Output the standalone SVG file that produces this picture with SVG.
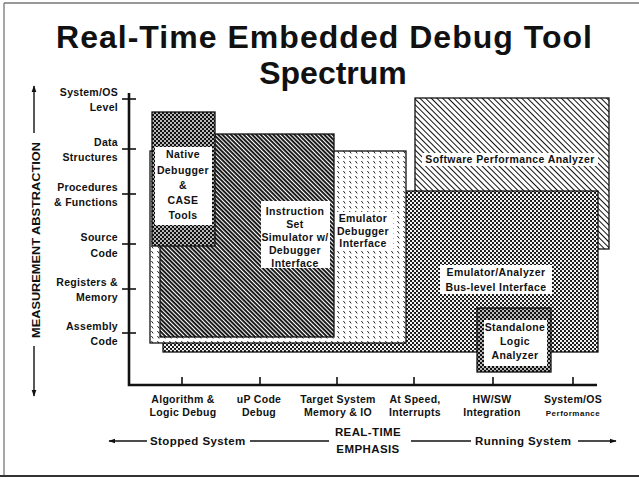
<svg xmlns="http://www.w3.org/2000/svg" width="639" height="479" viewBox="0 0 639 479">
  <style>
    .t { font-family: "Liberation Sans", Arial, sans-serif; font-weight: bold; fill: #111; }
    .lbl { font-size: 10.5px; letter-spacing: 0.4px; text-anchor: middle; }
    .ylbl { font-size: 10.5px; letter-spacing: 0.3px; text-anchor: end; }
    .xlbl { font-size: 10.5px; letter-spacing: 0.3px; text-anchor: middle; }
    .emph { font-size: 11.5px; letter-spacing: 0.4px; }
    .title { font-size: 32px; text-anchor: middle; }
    .box { stroke: #111; stroke-width: 1.3; }
    .axis { stroke: #111; stroke-width: 2.6; fill: none; }
    .tick { stroke: #111; stroke-width: 1.6; }
    .wire { stroke: #111; stroke-width: 1.4; fill: none; }
    .pad { fill: #fff; }
  </style>
  <defs>
    <!-- dark dotted fill -->
    <pattern id="pDots" width="4" height="4" patternUnits="userSpaceOnUse">
      <rect width="4" height="4" fill="#111"/>
      <circle cx="1" cy="1" r="0.95" fill="#fff"/>
      <circle cx="3" cy="3" r="0.95" fill="#fff"/>
    </pattern>
    <!-- checkered fill -->
    <pattern id="pCheck" width="4" height="4" patternUnits="userSpaceOnUse">
      <rect width="4" height="4" fill="#111"/>
      <circle cx="1" cy="1" r="1.15" fill="#fff"/>
      <circle cx="3" cy="3" r="1.15" fill="#fff"/>
    </pattern>
    <!-- dense diagonal hatch -->
    <pattern id="pDense" width="3" height="3" patternUnits="userSpaceOnUse" patternTransform="rotate(45)">
      <rect width="3" height="3" fill="#fff"/>
      <rect width="3" height="1.9" fill="#111"/>
    </pattern>
    <!-- light diagonal hatch -->
    <pattern id="pLight" width="4" height="4" patternUnits="userSpaceOnUse" patternTransform="rotate(45)">
      <rect width="4" height="4" fill="#fff"/>
      <rect width="4" height="1" fill="#111"/>
    </pattern>
    <!-- short dash fill -->
    <pattern id="pDash" width="6" height="5" patternUnits="userSpaceOnUse">
      <rect width="6" height="5" fill="#fff"/>
      <line x1="1.4" y1="1" x2="3.2" y2="3.5" stroke="#111" stroke-width="0.9"/>
    </pattern>
    <marker id="arr" viewBox="0 0 10 10" refX="9" refY="5" markerWidth="7" markerHeight="7" orient="auto-start-reverse" markerUnits="userSpaceOnUse">
      <path d="M0,1.5 L10,5 L0,8.5 z" fill="#111"/>
    </marker>
  </defs>

  <!-- page frame -->
  <g id="frame">
    <line x1="4" y1="3" x2="4" y2="476" stroke="#888" stroke-width="1.5"/>
    <line x1="4" y1="3" x2="639" y2="3" stroke="#777" stroke-width="1.5"/>
    <line x1="0" y1="476" x2="639" y2="476" stroke="#333" stroke-width="2"/>
  </g>

  <!-- title -->
  <g id="title" class="t">
    <text class="title t" x="324" y="48" textLength="536" lengthAdjust="spacing">Real-Time Embedded Debug Tool</text>
    <text class="title t" x="333" y="84">Spectrum</text>
  </g>

  <!-- tool regions, back to front -->
  <g id="spa">
    <rect class="box" x="415" y="98" width="194" height="151" fill="url(#pLight)"/>
    <rect class="pad" x="422" y="153" width="176" height="13"/>
    <text class="t lbl" x="510" y="163">Software Performance Analyzer</text>
  </g>

  <g id="emulator-analyzer">
    <rect class="box" x="163" y="191" width="435" height="161" fill="url(#pCheck)"/>
    <rect class="pad" x="440" y="265" width="112" height="29"/>
    <text class="t lbl" x="496" y="276">Emulator/Analyzer</text>
    <text class="t lbl" x="496" y="291">Bus-level Interface</text>
  </g>

  <g id="emulator-debugger">
    <rect class="box" x="150" y="151" width="256" height="192" fill="url(#pDash)"/>
    <rect class="pad" x="335" y="212" width="58" height="38"/>
    <text class="t lbl" x="363" y="222">Emulator</text>
    <text class="t lbl" x="363" y="235">Debugger</text>
    <text class="t lbl" x="363" y="247">Interface</text>
  </g>

  <g id="iss">
    <rect class="box" x="160" y="134" width="174" height="203" fill="url(#pDense)"/>
    <rect class="pad" x="261" y="201" width="69" height="67"/>
    <text class="t lbl" x="295" y="215">Instruction</text>
    <text class="t lbl" x="295" y="228">Set</text>
    <text class="t lbl" x="295" y="241">Simulator w/</text>
    <text class="t lbl" x="295" y="254">Debugger</text>
    <text class="t lbl" x="295" y="267">Interface</text>
  </g>

  <g id="native">
    <rect class="box" x="152" y="112" width="63" height="134" fill="url(#pDots)"/>
    <rect class="pad" x="155" y="147" width="57" height="78"/>
    <text class="t lbl" x="183" y="158">Native</text>
    <text class="t lbl" x="183" y="174">Debugger</text>
    <text class="t lbl" x="183" y="189">&amp;</text>
    <text class="t lbl" x="183" y="204">CASE</text>
    <text class="t lbl" x="183" y="219">Tools</text>
  </g>

  <g id="logic-analyzer">
    <rect class="box" x="477" y="308" width="74" height="64" fill="url(#pDots)"/>
    <rect class="pad" x="484" y="320" width="63" height="46"/>
    <text class="t lbl" x="515" y="331">Standalone</text>
    <text class="t lbl" x="515" y="345">Logic</text>
    <text class="t lbl" x="515" y="359">Analyzer</text>
  </g>

  <!-- axes and connectors -->
  <g id="connectors">
    <polyline class="axis" points="129,93 129,385 597,385"/>
    <line class="tick" x1="122" y1="99" x2="136" y2="99"/>
    <line class="tick" x1="122" y1="149" x2="136" y2="149"/>
    <line class="tick" x1="122" y1="194" x2="136" y2="194"/>
    <line class="tick" x1="122" y1="244" x2="136" y2="244"/>
    <line class="tick" x1="122" y1="289" x2="136" y2="289"/>
    <line class="tick" x1="122" y1="333" x2="136" y2="333"/>
    <line class="tick" x1="182" y1="377" x2="182" y2="385"/>
    <line class="tick" x1="260" y1="377" x2="260" y2="385"/>
    <line class="tick" x1="337" y1="377" x2="337" y2="385"/>
    <line class="tick" x1="414" y1="377" x2="414" y2="385"/>
    <line class="tick" x1="493" y1="377" x2="493" y2="385"/>
    <line class="tick" x1="573" y1="377" x2="573" y2="385"/>
    <!-- vertical emphasis arrows -->
    <line class="wire" x1="34" y1="133" x2="34" y2="86" marker-end="url(#arr)"/>
    <line class="wire" x1="34" y1="346" x2="34" y2="396" marker-end="url(#arr)"/>
    <!-- horizontal emphasis arrows -->
    <line class="wire" x1="147" y1="441" x2="109" y2="441" marker-end="url(#arr)"/>
    <line class="wire" x1="250" y1="441" x2="329" y2="441"/>
    <line class="wire" x1="411" y1="441" x2="471" y2="441"/>
    <line class="wire" x1="578" y1="441" x2="616" y2="441" marker-end="url(#arr)"/>
  </g>

  <!-- abstraction levels -->
  <g id="y-labels" class="t">
    <text class="t ylbl" x="118" y="96">System/OS</text>
    <text class="t ylbl" x="118" y="111">Level</text>
    <text class="t ylbl" x="118" y="146">Data</text>
    <text class="t ylbl" x="118" y="161">Structures</text>
    <text class="t ylbl" x="118" y="191">Procedures</text>
    <text class="t ylbl" x="118" y="206">&amp; Functions</text>
    <text class="t ylbl" x="118" y="241">Source</text>
    <text class="t ylbl" x="118" y="257">Code</text>
    <text class="t ylbl" x="118" y="286">Registers &amp;</text>
    <text class="t ylbl" x="118" y="301">Memory</text>
    <text class="t ylbl" x="118" y="330">Assembly</text>
    <text class="t ylbl" x="118" y="345">Code</text>
    <text class="t" font-size="11.5" text-anchor="middle" textLength="196" lengthAdjust="spacingAndGlyphs" transform="translate(40,240) rotate(-90)">MEASUREMENT ABSTRACTION</text>
  </g>

  <!-- debug activities -->
  <g id="x-labels" class="t">
    <text class="t xlbl" x="183" y="403">Algorithm &amp;</text>
    <text class="t xlbl" x="183" y="416">Logic Debug</text>
    <text class="t xlbl" x="259" y="403">uP Code</text>
    <text class="t xlbl" x="259" y="416">Debug</text>
    <text class="t xlbl" x="338" y="403">Target System</text>
    <text class="t xlbl" x="338" y="416">Memory &amp; IO</text>
    <text class="t xlbl" x="415" y="403">At Speed,</text>
    <text class="t xlbl" x="415" y="416">Interrupts</text>
    <text class="t xlbl" x="492" y="403">HW/SW</text>
    <text class="t xlbl" x="492" y="416">Integration</text>
    <text class="t xlbl" x="573" y="403">System/OS</text>
    <text class="t" x="573" y="416" font-size="8" letter-spacing="0.5" text-anchor="middle">Performance</text>
  </g>

  <g id="emphasis" class="t">
    <text class="t emph" x="150" y="445">Stopped System</text>
    <text class="t emph" x="368" y="436" text-anchor="middle">REAL-TIME</text>
    <text class="t emph" x="368" y="453" text-anchor="middle">EMPHASIS</text>
    <text class="t emph" x="475" y="445">Running System</text>
  </g>
</svg>
